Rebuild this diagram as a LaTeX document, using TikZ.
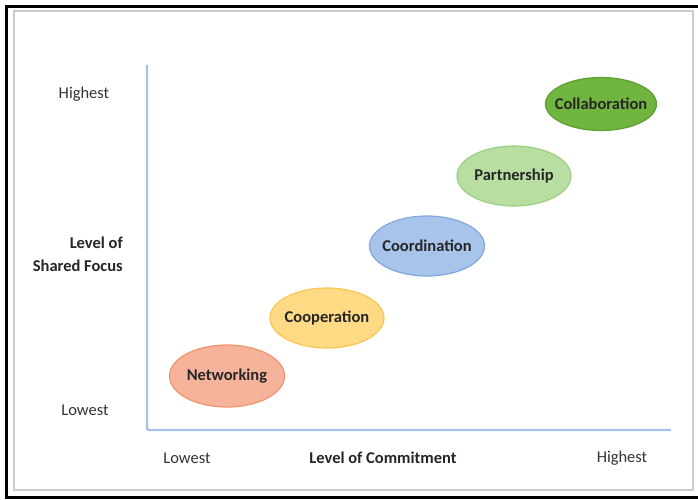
\documentclass[tikz,border=0pt]{standalone}
\usepackage{fontspec}
\setmainfont{Carlito}
\usetikzlibrary{shapes.geometric}
\definecolor{axisblue}{HTML}{A9C1E8}
\definecolor{netfill}{HTML}{F6B39C}
\definecolor{netdraw}{HTML}{F0936A}
\definecolor{coopfill}{HTML}{FFDA85}
\definecolor{coopdraw}{HTML}{F8C650}
\definecolor{coordfill}{HTML}{A8C4EA}
\definecolor{coorddraw}{HTML}{82A8DC}
\definecolor{partfill}{HTML}{B8DEA2}
\definecolor{partdraw}{HTML}{9CCE84}
\definecolor{collfill}{HTML}{70B540}
\definecolor{colldraw}{HTML}{5C9F33}
\tikzset{
  stage/.style={ellipse, inner sep=0pt, outer sep=0pt, line width=1.2pt, minimum width=114pt, minimum height=60pt},
  stagetext/.style={font=\fontsize{16.5}{19}\selectfont\bfseries, text=black!85, inner sep=0pt},
  lbl/.style={font=\fontsize{16.5}{19}\selectfont, text=black!80, inner sep=0pt},
  blbl/.style={font=\fontsize{16.5}{23}\selectfont\bfseries, text=black!85, inner sep=0pt},
  axis/.style={draw=axisblue, line width=2.4pt, rounded corners=2pt}
}
\begin{document}
\begin{tikzpicture}[x=1pt,y=-1pt]
\useasboundingbox (0,0) rectangle (698,500);
\fill[white] (0,0) rectangle (698,500);
% frames
\draw[black!20, line width=2pt] (14,11) rectangle (693,490);
\draw[black, line width=3.5pt] (698,6.5) -- (6.5,6.5) -- (6.5,497.5) -- (698,497.5);
% axes
\coordinate (ytop) at (147,65);
\coordinate (origin) at (147,430);
\coordinate (xend) at (671,430);
\draw[axis] (ytop) -- (origin) -- (xend);
% axis labels
\node[lbl] (yhigh) at (84,94) {Highest};
\node[lbl] (ylow) at (85,410) {Lowest};
\node[blbl, align=right, anchor=east] (ytitle) at (123,254) {Level of\\Shared Focus};
\node[lbl] (xlow) at (187,458) {Lowest};
\node[blbl] (xtitle) at (383,458) {Level of Commitment};
\node[lbl] (xhigh) at (622,458) {Highest};
% stages
\node[stage, fill=netfill, draw=netdraw, minimum width=115pt, minimum height=62pt,
  label={[stagetext]center:Networking}] (net) at (227,376) {};
\node[stage, fill=coopfill, draw=coopdraw, minimum width=114pt,
  label={[stagetext]center:Cooperation}] (coop) at (327,318) {};
\node[stage, fill=coordfill, draw=coorddraw, minimum width=115pt,
  label={[stagetext]center:Coordination}] (coord) at (427,246) {};
\node[stage, fill=partfill, draw=partdraw, minimum width=114pt,
  label={[stagetext]center:Partnership}] (part) at (514,176) {};
\node[stage, fill=collfill, draw=colldraw, minimum width=111pt, minimum height=53pt,
  label={[stagetext]center:Collaboration}] (coll) at (601,104) {};
\end{tikzpicture}
\end{document}
